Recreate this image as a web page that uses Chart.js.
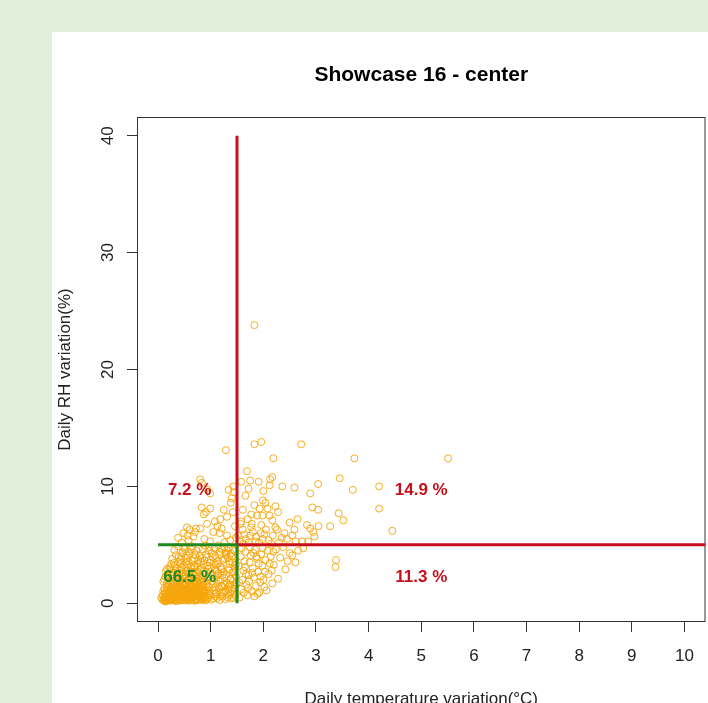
<!DOCTYPE html>
<html>
<head>
<meta charset="utf-8">
<title>Showcase 16 - center</title>
<script src="https://cdn.jsdelivr.net/npm/chart.js@4.4.0/dist/chart.umd.min.js"></script>
<style>
  html, body { margin: 0; padding: 0; width: 708px; height: 703px; overflow: hidden; background: #e2efda; }
  #panel { position: absolute; left: 52px; top: 32px; right: 0; bottom: 0; background: #ffffff; }
  #chart { position: absolute; left: 0; top: 0; }
</style>
</head>
<body>
<div id="panel"></div>
<canvas id="chart" width="708" height="720"></canvas>
<script>
// Daily variation per day: [temperature variation (°C), RH variation (%)]
const observations = [
  // cool, steady days
  [0.08,0.32],[0.12,0.55],[0.15,0.21],[0.18,0.88],[0.21,0.40],[0.24,1.12],[0.27,0.65],[0.30,0.28],[0.33,1.45],[0.36,0.77],
  [0.39,0.35],[0.42,1.02],[0.45,0.58],[0.48,1.63],[0.51,0.25],[0.54,0.92],[0.57,1.31],[0.60,0.47],[0.63,1.78],[0.66,0.70],
  [0.69,0.30],[0.72,1.15],[0.75,0.62],[0.78,1.50],[0.81,0.42],[0.84,0.98],[0.87,1.85],[0.90,0.55],[0.10,1.05],[0.13,0.15],
  [0.16,0.68],[0.19,1.38],[0.22,0.26],[0.25,0.95],[0.28,1.72],[0.31,0.52],[0.34,0.18],[0.37,1.22],[0.40,0.83],[0.43,1.95],
  [0.46,0.38],[0.49,1.10],[0.52,0.72],[0.55,1.55],[0.58,0.22],[0.61,1.02],[0.64,0.60],[0.67,1.40],[0.70,0.88],[0.73,0.36],
  [0.76,1.68],[0.79,0.75],[0.82,1.25],[0.85,0.32],[0.88,1.08],[0.11,0.42],[0.14,0.95],[0.17,0.20],[0.20,1.58],[0.23,0.62],
  [0.26,0.35],[0.29,1.28],[0.32,0.85],[0.35,1.88],[0.38,0.45],[0.41,0.24],[0.44,1.35],[0.47,0.80],[0.50,1.48],[0.53,0.40],
  [0.56,0.66],[0.59,1.92],[0.62,0.30],[0.65,1.20],[0.68,0.52],[0.71,1.62],[0.74,0.95],[0.77,0.28],[0.80,1.38],[0.83,0.66],
  [0.86,1.55],[0.89,0.40],[0.09,0.70],[0.12,1.25],[0.15,0.48],[0.18,0.30],[0.21,1.02],[0.24,0.58],[0.27,1.90],[0.30,0.95],
  [0.33,0.40],[0.36,1.58],[0.39,0.68],[0.42,0.26],[0.45,1.22],[0.48,0.90],[0.51,1.75],[0.54,0.50],[0.57,0.32],[0.60,1.42],
  [0.63,0.85],[0.66,1.32],[0.69,0.62],[0.72,0.24],[0.75,1.88],[0.78,0.98],[0.81,0.50],[0.84,1.48],[0.87,0.78],[0.90,1.18],
  [0.14,0.28],[0.17,1.15],[0.20,0.75],[0.23,0.35],[0.26,1.42],[0.29,0.60],[0.32,1.05],[0.35,0.22],[0.38,0.92],[0.41,1.68],
  [0.44,0.55],[0.47,0.28],[0.50,1.05],[0.53,1.30],[0.56,0.85],[0.59,0.42],[0.62,1.58],[0.65,0.95],[0.68,1.95],[0.71,0.38],
  [0.74,1.25],[0.77,0.58],[0.80,0.88],[0.83,1.78],[0.86,0.45],[0.06,0.50],[0.19,0.55],[0.28,0.42],[0.37,0.60],[0.46,0.48],
  [0.55,0.30],[0.64,0.38],[0.73,0.72],[0.82,0.30],[0.91,0.88],[0.22,1.82],[0.31,1.62],[0.40,1.40],[0.49,0.62],[0.58,1.12],
  [0.67,0.78],[0.76,1.45],[0.85,1.12],[0.94,0.35],[0.16,1.52],[0.25,0.22],[0.34,0.68],[0.43,0.45],[0.52,0.38],[0.61,0.72],
  [0.70,1.22],[0.79,1.95],[0.88,0.62],[0.97,1.42],[0.13,0.82],[0.24,1.35],[0.35,1.12],[0.46,1.75],[0.57,0.55],[0.68,0.22],
  [0.79,0.48],[0.90,0.25],[0.11,0.25],[0.20,0.38],[0.29,0.88],[0.38,1.32],[0.47,1.52],[0.56,1.98],[0.65,0.48],[0.74,1.08],
  [0.83,1.02],[0.92,1.65],[0.18,0.62],[0.27,0.48],[0.36,0.30],[0.45,0.75],[0.54,1.18],[0.63,1.08],[0.72,0.85],[0.81,1.62],
  [0.95,0.52],[0.98,1.05],[1.01,0.30],[1.04,1.62],[1.07,0.78],[1.10,2.15],[1.13,0.45],[1.16,1.28],[1.19,0.62],[1.22,2.40],
  [1.25,0.95],[1.28,0.35],[1.31,1.75],[1.34,0.70],[1.37,2.05],[1.40,1.15],[1.43,0.48],[1.46,1.52],[0.96,2.30],[0.99,0.68],
  [1.02,1.88],[1.05,0.42],[1.08,1.35],[1.11,0.92],[1.14,2.55],[1.17,0.28],[1.20,1.48],[1.23,0.58],[1.26,2.22],[1.29,1.02],
  [1.32,0.50],[1.35,1.42],[1.38,0.88],[1.41,2.62],[1.44,1.25],[1.47,0.62],[0.93,1.32],[1.00,2.65],[1.06,1.12],[1.12,1.70],
  [1.18,2.02],[1.24,1.38],[1.30,2.45],[1.36,1.62],[1.42,1.92],[1.48,2.30],[0.97,0.85],[1.09,0.58],[1.21,0.95],[1.33,1.22],
  [1.45,0.82],[1.15,1.95],[1.27,1.58],[1.39,0.40],[1.03,2.48],[0.94,1.98],[1.11,2.75],[1.35,2.85],[1.49,1.70],[1.20,2.90],
  [0.12,2.05],[0.18,2.40],[0.25,2.15],[0.31,2.62],[0.38,2.28],[0.44,2.85],[0.50,2.10],[0.57,2.52],[0.63,2.95],[0.70,2.35],
  [0.76,2.70],[0.83,2.18],[0.89,2.58],[0.15,2.75],[0.22,2.92],[0.28,2.38],[0.35,2.05],[0.41,2.55],[0.48,2.32],[0.54,2.78],
  [0.61,2.22],[0.67,2.48],[0.74,2.12],[0.80,2.88],[0.86,2.42],[0.20,2.20],[0.33,2.80],[0.46,2.60],[0.59,2.02],[0.72,2.62],
  [0.85,2.08],[0.10,1.85],[0.27,2.50],[0.40,2.12],[0.53,2.45],[0.66,2.68],[0.79,2.30],[0.92,2.12],[0.17,1.72],[0.37,2.42],
  [0.23,3.10],[0.30,3.45],[0.36,3.05],[0.43,3.72],[0.49,3.25],[0.56,3.58],[0.62,3.15],[0.69,3.85],[0.75,3.38],[0.82,3.02],
  [0.88,3.65],[0.94,3.22],[0.27,3.80],[0.34,4.12],[0.40,3.52],[0.47,4.35],[0.53,3.90],[0.60,4.22],[0.66,3.62],[0.73,4.48],
  [0.79,4.05],[0.85,4.62],[0.91,4.18],[0.98,3.48],[1.04,3.95],[1.10,3.28],[1.17,4.40],[1.23,3.72],[1.29,4.15],[1.36,3.35],
  [1.42,4.58],[1.47,3.85],[1.01,3.05],[1.07,4.70],[1.13,3.60],[1.19,3.12],[1.26,4.80],[1.32,3.92],[1.38,4.25],[1.45,3.15],
  [0.31,4.55],[0.38,4.85],[0.44,4.02],[0.51,4.65],[0.58,4.42],[0.64,4.88],[0.71,4.12],[0.77,4.72],[0.84,3.88],[0.90,4.92],
  [0.96,4.52],[1.02,4.28],[1.09,4.05],[1.15,4.95],[1.21,4.62],[1.28,4.32],[1.34,4.72],[1.40,4.02],[1.46,4.48],[0.57,3.30],
  [0.45,3.05],[0.52,3.48],[0.68,3.20],[0.81,3.55],[0.95,2.95],[1.08,2.82],[1.22,3.02],[1.35,3.58],[1.48,3.32],[0.25,3.35],
  [0.17,2.95],[0.32,3.20],[0.39,3.95],[0.55,4.10],[0.70,3.05],[0.86,3.30],[1.00,3.70],[1.14,3.40],[1.27,3.82],[1.41,3.50],
  [0.63,4.60],[0.76,3.72],[0.92,3.95],[1.06,3.45],[1.18,4.18],[1.31,4.52],[1.44,2.72],[0.48,4.78],[0.60,2.68],[0.87,2.78],
  [1.12,2.38],[1.25,2.68],[1.38,2.12],[1.46,2.95],[0.14,2.28],[0.42,3.35],[0.98,4.82],
  // small temperature swing, large humidity swing
  [1.29,13.1],[0.80,10.6],[0.83,10.3],[0.94,9.7],[1.34,9.7],[1.43,10.0],[0.99,9.4],[1.40,9.0],[1.44,9.5],[0.83,8.2],
  [0.99,8.1],[0.91,7.8],[0.87,7.6],[1.25,8.0],[1.31,7.4],[1.38,8.6],[1.18,7.2],[0.60,6.3],[0.70,6.1],[0.56,5.8],
  [0.80,6.4],[1.13,6.6],[1.17,6.0],[0.99,5.3],[1.31,5.8],[1.37,5.4],[1.46,6.6],[0.48,6.0],[0.67,5.7],[1.05,6.1],
  [1.21,6.4],[0.55,6.5],[0.72,6.4],[0.58,5.4],[0.38,5.6],[0.88,5.5],[1.08,7.0],[1.42,7.8],[1.26,5.2],[0.45,5.2],
  [0.93,6.8],[1.48,5.6],
  // large swings in both
  [1.83,23.8],[1.83,13.6],[1.96,13.8],[2.72,13.6],[2.19,12.4],[3.73,12.4],[5.51,12.4],[1.69,11.3],[1.58,10.4],[1.75,10.5],
  [1.91,10.4],[2.13,10.6],[2.17,10.8],[2.12,10.1],[1.72,9.8],[2.36,10.0],[2.59,9.9],[3.04,10.2],[3.45,10.7],[3.70,9.7],
  [2.89,9.4],[4.20,10.0],[4.20,8.1],[4.45,6.2],[3.43,7.7],[3.52,7.1],[1.83,8.4],[1.99,8.8],[2.04,8.6],[2.08,8.1],
  [2.23,8.3],[1.61,8.0],[2.93,8.2],[3.04,8.0],[1.77,7.6],[1.88,7.5],[1.98,7.5],[2.12,7.5],[2.17,7.1],[1.58,7.0],
  [1.77,6.5],[1.96,6.7],[2.05,6.3],[2.23,6.5],[2.26,6.3],[2.50,6.9],[2.59,6.3],[2.83,6.7],[2.89,6.4],[2.95,6.1],
  [2.97,5.7],[3.05,6.6],[3.27,6.6],[1.99,5.5],[2.45,5.5],[2.61,5.3],[2.74,5.3],[2.85,5.3],[1.67,5.5],[1.86,5.7],
  [1.61,6.3],[1.55,5.3],[1.64,5.9],[1.72,5.2],[1.80,6.1],[1.92,5.2],[2.02,5.9],[2.10,5.4],[2.18,5.8],[2.30,5.2],
  [1.57,6.8],[1.70,7.2],[1.93,8.1],[2.28,7.8],[1.66,9.2],[2.00,9.6],[2.40,6.0],[2.55,5.8],[1.52,5.8],[1.62,5.1],
  [1.75,5.8],[1.85,5.3],[1.95,6.0],[2.15,5.1],[2.35,5.6],[1.78,6.8],[2.65,7.2],
  // large temperature swing, small humidity swing
  [2.50,4.3],[2.61,3.5],[2.76,4.7],[3.38,3.7],[3.37,3.1],[2.08,4.5],[2.12,3.4],[2.10,2.5],[2.28,2.1],[2.17,1.7],
  [2.02,1.4],[1.94,1.8],[1.70,0.7],[1.74,3.5],[1.55,0.5],[1.58,1.2],[1.60,2.0],[1.62,2.8],[1.64,3.6],[1.66,4.4],
  [1.68,1.6],[1.72,2.4],[1.76,4.1],[1.78,1.0],[1.80,3.0],[1.82,2.2],[1.84,4.6],[1.86,1.5],[1.88,3.8],[1.90,2.7],
  [1.92,0.9],[1.96,4.2],[1.98,3.2],[2.00,2.0],[2.04,3.7],[2.06,1.1],[2.14,4.0],[2.16,2.8],[2.20,3.3],[2.24,4.6],
  [2.32,3.9],[2.38,4.8],[2.42,2.9],[2.46,3.6],[2.55,4.1],[2.66,4.5],[1.53,3.2],[1.57,4.0],[1.63,0.9],[1.67,2.5],
  [1.71,1.3],[1.75,4.8],[1.79,2.6],[1.83,0.6],[1.87,4.0],[1.91,3.4],[1.95,2.3],[1.99,4.7],[2.03,2.7],[1.54,1.8],
  [1.59,4.7],[1.65,3.1],[1.73,1.9],[1.81,4.3],[1.89,0.8],[2.19,4.4]
];

// Thresholds splitting the plane into four classes
const tempThreshold = 1.5;
const rhThreshold = 5;
const rhTop = 40;

// Axis ranges and ticks
const xRange = [-0.4, 10.4];
const yRange = [-1.6, 41.6];
const xTickValues = [0, 1, 2, 3, 4, 5, 6, 7, 8, 9, 10];
const yTickValues = [0, 10, 20, 30, 40];

// Class order: upper-left, upper-right, lower-left, lower-right
const labelTemp = [0.6, 5.0, 0.6, 5.0];
const labelRH = [9.7, 9.7, 2.2, 2.2];

const RED = '#c8101c';
const GREEN = '#1d8a1d';
const labelColors = [RED, RED, GREEN, RED];
const FONT = "'Liberation Sans', Arial, Helvetica, sans-serif";

// Share of days falling in each class
const counts = [0, 0, 0, 0];
observations.forEach(([t, h]) => {
  const idx = (h > rhThreshold ? 0 : 2) + (t > tempThreshold ? 1 : 0);
  counts[idx]++;
});
const shareText = counts.map(c => (100 * c / observations.length).toFixed(1) + ' %');

const frameBox = {
  id: 'frameBox',
  beforeDatasetsDraw(chart) {
    const { ctx, chartArea: a } = chart;
    ctx.save();
    ctx.strokeStyle = '#333';
    ctx.lineWidth = 1;
    ctx.strokeRect(a.left + 0.5, a.top + 0.5, a.right - a.left - 1, a.bottom - a.top - 1);
    ctx.restore();
  }
};

const classLabels = {
  id: 'classLabels',
  afterDatasetsDraw(chart) {
    const { ctx, scales: { x, y } } = chart;
    ctx.save();
    ctx.font = 'bold 17px ' + FONT;
    ctx.textAlign = 'center';
    ctx.textBaseline = 'middle';
    shareText.forEach((txt, i) => {
      ctx.fillStyle = labelColors[i];
      ctx.fillText(txt, x.getPixelForValue(labelTemp[i]), y.getPixelForValue(labelRH[i]));
    });
    ctx.restore();
  }
};

const segment = (pts, color, order) => ({
  data: pts.map(([x, y]) => ({ x, y })),
  showLine: true,
  borderColor: color,
  borderWidth: 3,
  pointRadius: 0,
  fill: false,
  order
});

new Chart(document.getElementById('chart').getContext('2d'), {
  type: 'scatter',
  data: {
    datasets: [
      segment([[tempThreshold, rhThreshold], [tempThreshold, rhTop]], RED, 1),
      segment([[tempThreshold, rhThreshold], [xRange[1], rhThreshold]], RED, 1),
      segment([[0, rhThreshold], [tempThreshold, rhThreshold]], GREEN, 0),
      segment([[tempThreshold, 0], [tempThreshold, rhThreshold]], GREEN, 0),
      {
        data: observations.map(([x, y]) => ({ x, y })),
        pointStyle: 'circle',
        pointRadius: 3.5,
        borderWidth: 1,
        borderColor: 'rgba(245,165,10,0.9)',
        backgroundColor: 'rgba(0,0,0,0)',
        order: 5
      }
    ]
  },
  options: {
    responsive: false,
    animation: false,
    events: [],
    layout: { autoPadding: false, padding: { left: 52, right: 2, top: 0, bottom: 0 } },
    plugins: {
      legend: { display: false },
      tooltip: { enabled: false },
      title: {
        display: true,
        text: 'Showcase 16 - center',
        fullSize: false,
        color: '#000',
        font: { family: FONT, size: 21, weight: 'bold', lineHeight: 1.2 },
        padding: { top: 62.4, bottom: 29.4 }
      }
    },
    scales: {
      x: {
        type: 'linear',
        min: xRange[0],
        max: xRange[1],
        afterBuildTicks: s => { s.ticks = xTickValues.map(v => ({ value: v })); },
        afterFit: s => { s.height = 98; },
        grid: { drawOnChartArea: false, drawTicks: true, tickLength: 10, color: '#333', lineWidth: 1 },
        border: { display: false },
        ticks: { padding: 14, color: '#222', autoSkip: false, minRotation: 0, maxRotation: 0, font: { family: FONT, size: 17 } },
        title: {
          display: true,
          text: 'Daily temperature variation(°C)',
          color: '#222',
          font: { family: FONT, size: 17, lineHeight: 1.2 },
          padding: { top: 0, bottom: 10.8 }
        }
      },
      y: {
        type: 'linear',
        min: yRange[0],
        max: yRange[1],
        afterBuildTicks: s => { s.ticks = yTickValues.map(v => ({ value: v })); },
        afterFit: s => { s.width = 85; },
        grid: { drawOnChartArea: false, drawTicks: true, tickLength: 10, color: '#333', lineWidth: 1 },
        border: { display: false },
        ticks: { padding: 9.5, color: '#222', minRotation: 90, maxRotation: 90, crossAlign: 'center', font: { family: FONT, size: 17 } },
        title: {
          display: true,
          text: 'Daily RH variation(%)',
          color: '#222',
          font: { family: FONT, size: 17, lineHeight: 1.2 },
          padding: { top: 3.3, bottom: 0 }
        }
      }
    }
  },
  plugins: [frameBox, classLabels]
});
</script>
</body>
</html>
